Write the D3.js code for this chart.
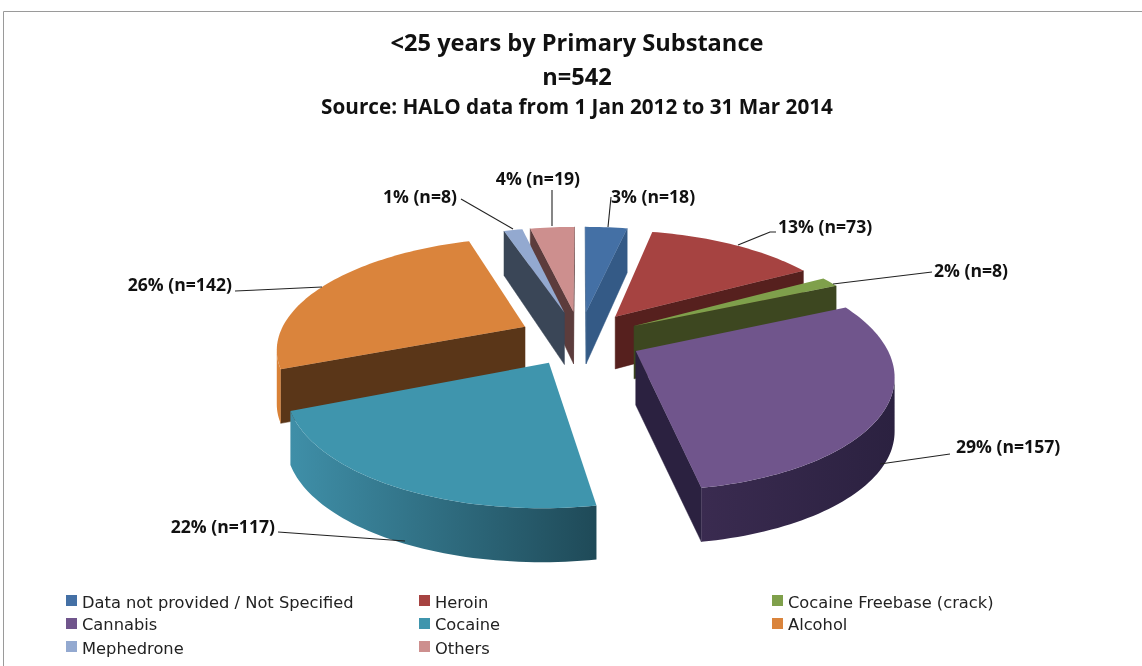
<!DOCTYPE html>
<html><head><meta charset="utf-8">
<script src="https://cdn.jsdelivr.net/npm/d3@7/dist/d3.min.js"></script>
<style>html,body{margin:0;padding:0;background:#fff}svg{display:block;filter:blur(0.4px)}</style>
</head><body><svg id="c" width="1142" height="666"></svg>
<script>
const categories=["Data not provided / Not Specified","Heroin","Cocaine Freebase (crack)","Cannabis","Cocaine","Alcohol","Mephedrone","Others"];
const counts=[18,73,8,157,117,142,8,19];
const percents=[3,13,2,29,22,26,1,4];
const topColors=["#4470A5","#A64341","#7FA04B","#70558C","#3F95AD","#DA843C","#93A9D0","#CD8F8E"];
const wallColors=[["#345A86","#345A86"],["#56201E","#56201E"],["#3D4720","#3D4720"],["#2B2140","#3A2B50"],["#1F4A58","#3F8FA8"],["#D98136","#D98136"],["#3A4657","#3A4657"],["#5C3C3C","#5C3C3C"]];
const planeColors=["#345A86","#56201E","#3D4720","#2B2140","#1F4A58","#5A3618","#3A4657","#5C3C3C"];
const titleLines=[["<25 years by Primary Substance",51,23.6],["n=542",85,23.6],["Source: HALO data from 1 Jan 2012 to 31 Mar 2014",114,20.7]];
const labelLayout=[
 {x:611,y:197,a:"start",line:[[608,227],[611,197]]},
 {x:778,y:227,a:"start",line:[[738,245],[770,232],[776,232]]},
 {x:934,y:271,a:"start",line:[[833,284],[932,272]]},
 {x:956,y:447,a:"start",line:[[880,464],[950,454]]},
 {x:275,y:527,a:"end",line:[[405,541],[320,535],[278,532]]},
 {x:232,y:285,a:"end",line:[[322,287],[235,291]]},
 {x:457,y:197,a:"end",line:[[513,229],[461,199]]},
 {x:580,y:179,a:"end",line:[[552,226],[552,190]]}];

const svg=d3.select("#c");
const defs=svg.append("defs");
svg.append("path").attr("d","M3.5,666V11.5H1142").attr("fill","none").attr("stroke","#9a9a9a");

const pie=d3.pie().sort(null).value(d=>d);
const arcs=pie(counts);
const CX=580,CY=338,A=247,B=109,K=0.18,EX=0.25,D=54;
function proj(X,Y,low){const w=1+K*Y;const dep=low?D*(w<1?1:1/w):0;return [CX+A*X/w,CY-B*Y/w+dep];}
function pt(off,ang,r,low){return proj(off[0]+r*Math.sin(ang),off[1]+r*Math.cos(ang),low);}
const line=d3.line();
const order=d3.range(counts.length).sort((i,j)=>{
 const m=k=>(arcs[k].startAngle+arcs[k].endAngle)/2;return Math.cos(m(j))-Math.cos(m(i));});
const pieG=svg.append("g");
order.forEach(i=>{
 const a=arcs[i],m=(a.startAngle+a.endAngle)/2,off=[EX*Math.sin(m),EX*Math.cos(m)];
 const n=Math.max(4,Math.ceil((a.endAngle-a.startAngle)*40));
 const angs=d3.range(n+1).map(t=>a.startAngle+(a.endAngle-a.startAngle)*t/n);
 const apexT=proj(off[0],off[1],false),apexB=proj(off[0],off[1],true);
 const rimT=angs.map(t=>pt(off,t,1,false)),rimB=angs.map(t=>pt(off,t,1,true));
 const g=pieG.append("g");
 if(rimT[0][0]-apexT[0]<-0.5) g.append("path").attr("d",line([apexT,rimT[0],rimB[0],apexB])+"Z").attr("fill",planeColors[i]).attr("stroke",planeColors[i]).attr("stroke-width",.5);
 if(apexT[0]-rimT[n][0]<-0.5) g.append("path").attr("d",line([rimT[n],apexT,apexB,rimB[n]])+"Z").attr("fill",planeColors[i]).attr("stroke",planeColors[i]).attr("stroke-width",.5);
 const vis=d3.range(n+1).filter(s=>(s<n&&rimT[s+1][0]<rimT[s][0])||(s>0&&rimT[s][0]<rimT[s-1][0]));
 if(vis.length){
  const x0=rimT[vis[0]][0],x1=rimT[vis[vis.length-1]][0];
  const id="wall"+i;
  const gr=defs.append("linearGradient").attr("id",id).attr("gradientUnits","userSpaceOnUse").attr("x1",x0).attr("x2",x1).attr("y1",0).attr("y2",0);
  gr.append("stop").attr("offset",0).attr("stop-color",wallColors[i][0]);
  gr.append("stop").attr("offset",1).attr("stop-color",wallColors[i][1]);
  const poly=[...vis.map(s=>rimT[s]),...vis.slice().reverse().map(s=>rimB[s])];
  g.append("path").attr("d",line(poly)+"Z").attr("fill",`url(#${id})`);
 }
 g.append("path").attr("d",line([apexT,...rimT])+"Z").attr("fill",topColors[i]);
});

const lblG=svg.append("g");
labelLayout.forEach((l,i)=>{
 lblG.append("path").attr("d",line(l.line)).attr("fill","none").attr("stroke","#222").attr("stroke-width",1.1);
 lblG.append("text").attr("x",l.x).attr("y",l.y).attr("dy","0.35em").attr("text-anchor",l.a)
  .attr("font-family","Open Sans").attr("font-weight",700).attr("font-size",17.6).attr("fill","#111")
  .text(`${percents[i]}% (n=${counts[i]})`);
});
titleLines.forEach(t=>svg.append("text").attr("x",577).attr("y",t[1]).attr("text-anchor","middle")
 .attr("font-family","Open Sans").attr("font-weight",700).attr("font-size",t[2]).attr("fill","#111").text(t[0]));

const colX=[66,419,772],rowY=[601,624,647];
const rowText=[602,624,648];
categories.forEach((c,i)=>{
 const x=colX[i%3],r=Math.floor(i/3),y=rowY[r];
 svg.append("rect").attr("x",x).attr("y",y-6).attr("width",11).attr("height",11).attr("fill",topColors[i]);
 svg.append("text").attr("x",x+16).attr("y",rowText[r]).attr("dy","0.35em").attr("font-family","DejaVu Sans").attr("font-size",16.3).attr("fill","#222").text(c);
});
</script></body></html>
